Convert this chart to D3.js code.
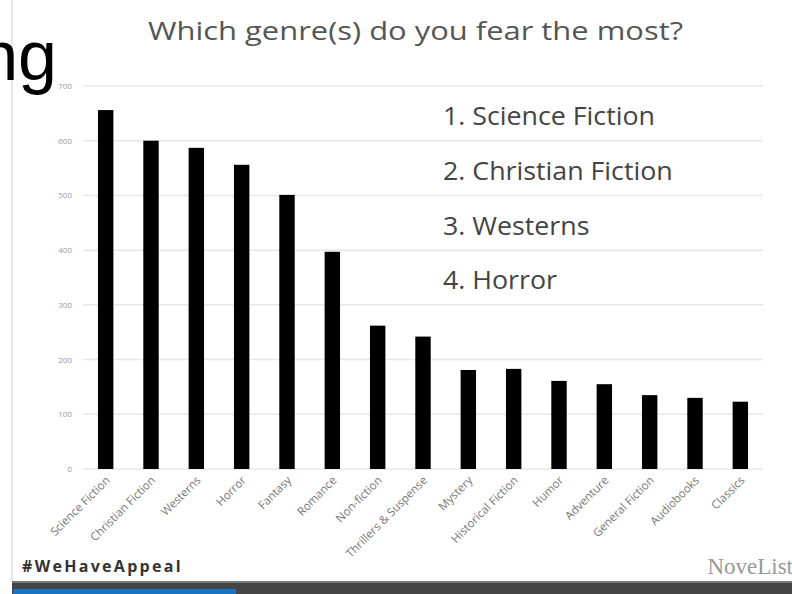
<!DOCTYPE html>
<html>
<head>
<meta charset="utf-8">
<script src="https://d3js.org/d3.v7.min.js"></script>
<style>
  body { margin: 0; background: #fff; }
  svg { display: block; }
</style>
</head>
<body>
<div id="chart"></div>
<script>
// data
const genres = ["Science Fiction", "Christian Fiction", "Westerns", "Horror", "Fantasy",
  "Romance", "Non-fiction", "Thrillers & Suspense", "Mystery", "Historical Fiction",
  "Humor", "Adventure", "General Fiction", "Audiobooks", "Classics"];
const votes = [656, 600, 587, 556, 501, 397, 262, 242, 181, 183, 161, 155, 135, 130, 123];
const yTicks = [0, 100, 200, 300, 400, 500, 600, 700];
const topFour = ["1. Science Fiction", "2. Christian Fiction", "3. Westerns", "4. Horror"];

const width = 792, height = 594;
const margin = { top: 86, right: 29, bottom: 125, left: 83 };

const svg = d3.select("#chart")
    .append("svg")
    .attr("width", width)
    .attr("height", height);

// slide edge on the left
svg.append("line")
    .attr("x1", 12).attr("x2", 12)
    .attr("y1", 0).attr("y2", 582)
    .style("stroke", "#e6e6e6")
    .style("stroke-width", 2);

// cut-off word from the previous slide
svg.append("text")
    .attr("x", 57).attr("y", 80)
    .attr("text-anchor", "end")
    .style("font-family", "Liberation Sans, Arial, sans-serif")
    .style("font-size", "70px")
    .style("fill", "#000")
    .text("ng");

const x = d3.scaleBand()
    .domain(genres)
    .range([margin.left, width - margin.right])
    .paddingInner(0.66)
    .paddingOuter(0.33);

const y = d3.scaleLinear()
    .domain([0, 700])
    .range([height - margin.bottom, margin.top]);

// gridlines
svg.append("g")
    .selectAll("line")
    .data(yTicks)
    .enter()
    .append("line")
    .attr("x1", margin.left)
    .attr("x2", width - margin.right)
    .attr("y1", d => y(d))
    .attr("y2", d => y(d))
    .style("stroke", "#e8e8e8")
    .style("stroke-width", 1.5);

// y axis labels
const yAxis = svg.append("g")
    .attr("transform", `translate(${margin.left - 6},0)`)
    .call(d3.axisLeft(y).tickValues(yTicks).tickSize(0).tickPadding(5));
yAxis.select(".domain").remove();
yAxis.selectAll("text")
    .style("font-family", "Open Sans, sans-serif")
    .style("font-size", "8px")
    .style("fill", "#999");

// bars
svg.append("g")
    .selectAll("rect")
    .data(genres)
    .enter()
    .append("rect")
    .attr("x", d => x(d))
    .attr("width", x.bandwidth())
    .attr("y", (d, i) => y(votes[i]))
    .attr("height", (d, i) => y(0) - y(votes[i]))
    .style("fill", "#000");

// x axis labels, rotated
const xAxis = svg.append("g")
    .attr("transform", `translate(0,${y(0)})`)
    .call(d3.axisBottom(x).tickSize(0).tickPadding(0));
xAxis.select(".domain").remove();
xAxis.selectAll("text")
    .attr("text-anchor", "end")
    .attr("dy", 0)
    .attr("transform", "translate(5,12) rotate(-45)")
    .style("font-family", "Open Sans, sans-serif")
    .style("font-size", "11.5px")
    .style("fill", "#777");

// title (the photo of the slide is a little stretched sideways)
svg.append("text")
    .attr("x", 148).attr("y", 40)
    .attr("textLength", 535)
    .attr("lengthAdjust", "spacingAndGlyphs")
    .style("font-family", "Open Sans, sans-serif")
    .style("font-size", "26px")
    .style("fill", "#555")
    .text("Which genre(s) do you fear the most?");

// top four list, one line per gridline band
svg.append("g")
    .selectAll("text")
    .data(topFour)
    .enter()
    .append("text")
    .attr("x", 443)
    .attr("y", (d, i) => y(650 - i * 100) + 12)
    .attr("transform", "translate(443,0) scale(1.03,1) translate(-443,0)")
    .style("font-family", "Open Sans, sans-serif")
    .style("font-size", "26px")
    .style("fill", "#444")
    .text(d => d);

// footer
svg.append("text")
    .attr("x", 22).attr("y", 572)
    .style("font-family", "Open Sans, sans-serif")
    .style("font-weight", "bold")
    .style("font-size", "16px")
    .style("letter-spacing", "2.3px")
    .style("fill", "#333")
    .text("#WeHaveAppeal");

svg.append("text")
    .attr("x", 793).attr("y", 574)
    .attr("text-anchor", "end")
    .style("font-family", "Liberation Serif, serif")
    .style("font-size", "23px")
    .style("fill", "#999")
    .text("NoveList");

// bottom bar of the next slide
svg.append("rect")
    .attr("x", 12).attr("y", 581)
    .attr("width", 780).attr("height", 13)
    .style("fill", "#444");
svg.append("rect")
    .attr("x", 12).attr("y", 581)
    .attr("width", 780).attr("height", 2)
    .style("fill", "#777");
svg.append("rect")
    .attr("x", 13).attr("y", 589)
    .attr("width", 223).attr("height", 5)
    .style("fill", "#1a73c0");
</script>
</body>
</html>
